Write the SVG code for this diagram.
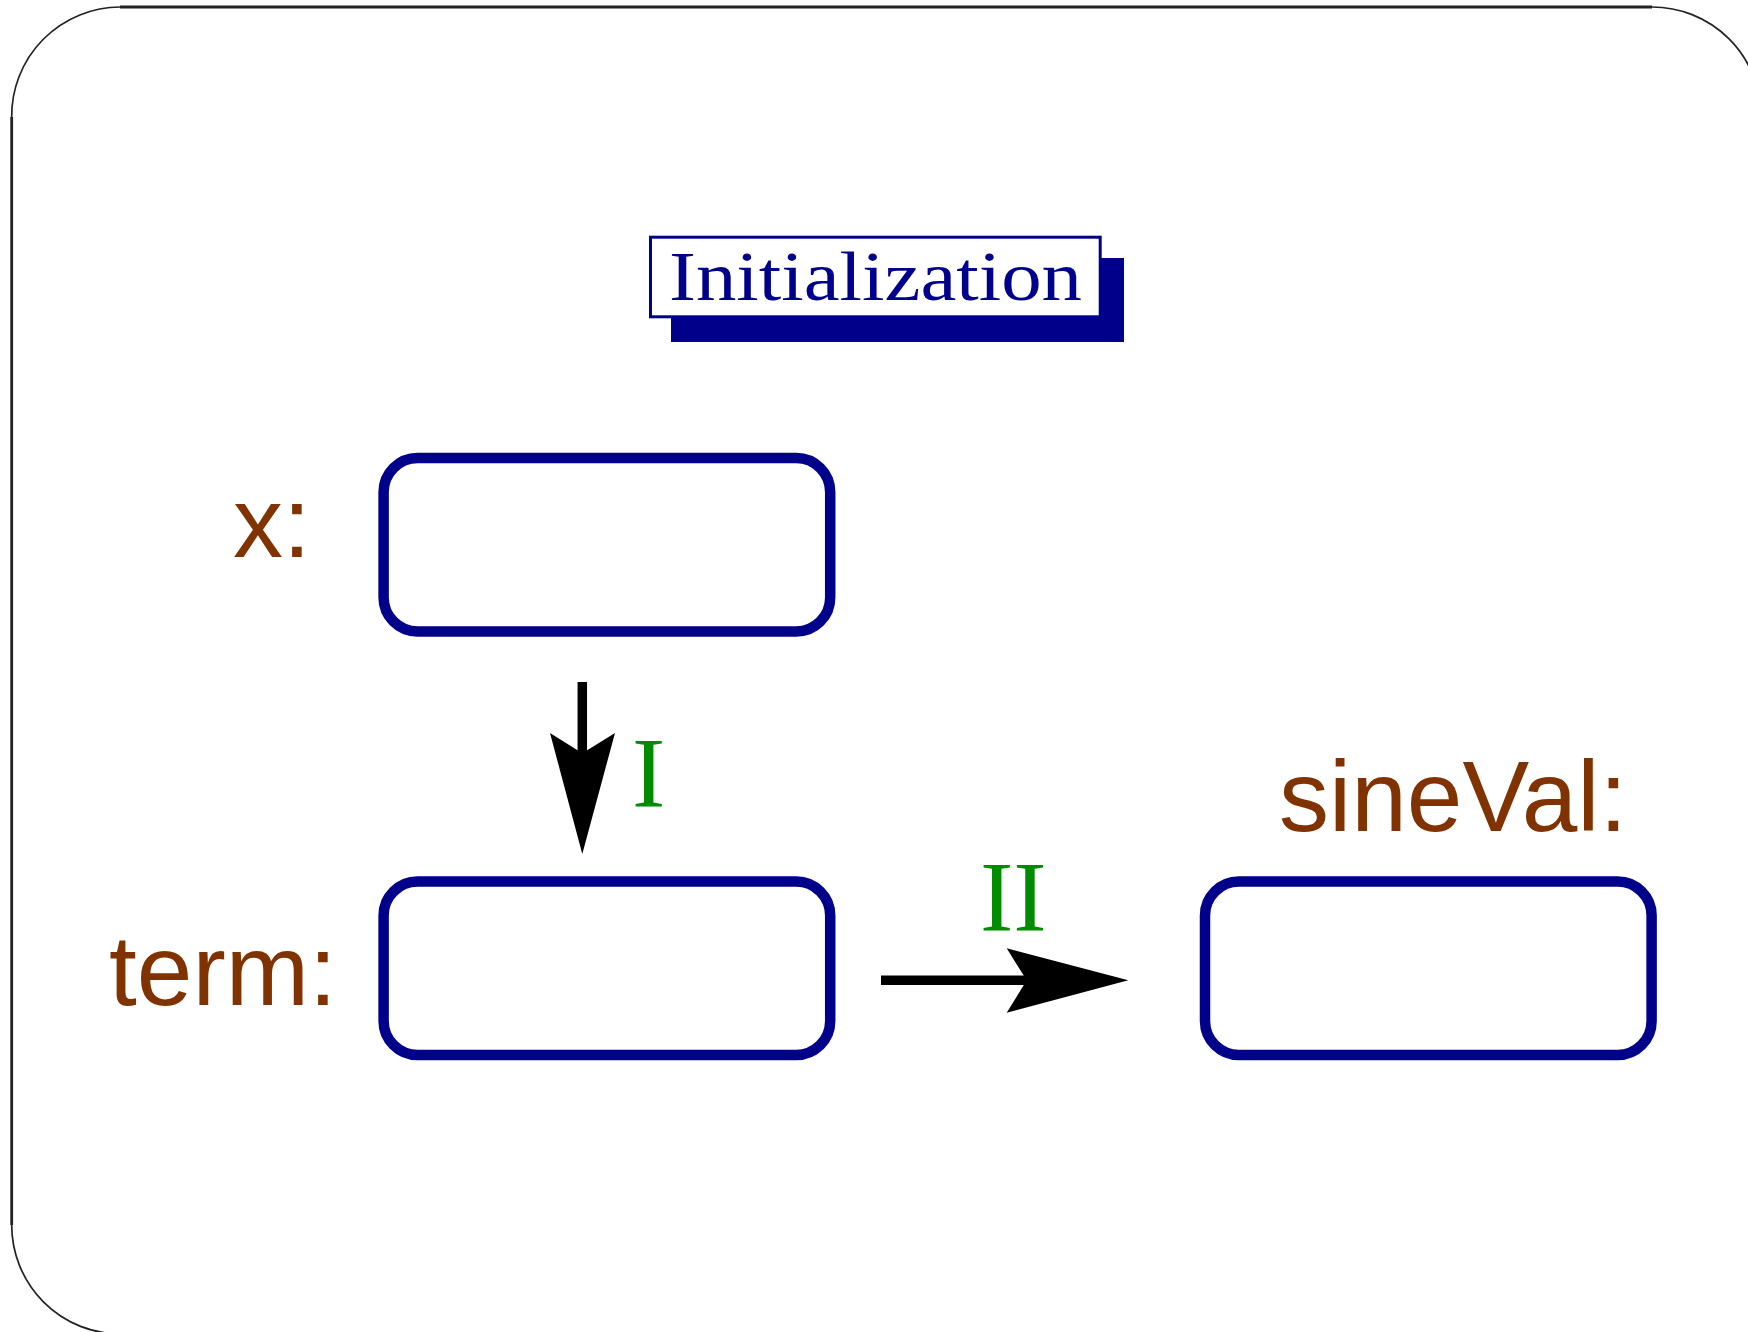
<svg xmlns="http://www.w3.org/2000/svg" width="1748" height="1332" viewBox="0 0 1748 1332">
  <style>
    .frame-line { fill: none; stroke: #222222; stroke-width: 2.8; }
    .frame-arc { fill: none; stroke: #222222; stroke-width: 1.7; }
    .var-box { fill: #ffffff; stroke: #00008b; stroke-width: 10.5; }
    .var-label { font-family: "Liberation Sans", Arial, sans-serif; font-size: 100px; fill: #803300; }
    .step-label { font-family: "Liberation Serif", "Times New Roman", serif; font-size: 100px; fill: #008b00; }
    .title-text { font-family: "Liberation Serif", "Times New Roman", serif; font-size: 69px; fill: #00008b; }
    .arrow-shaft { stroke: #000000; stroke-width: 9.5; fill: none; }
    .arrow-head { fill: #000000; stroke: none; }
  </style>
  <rect x="0" y="0" width="1748" height="1332" fill="#ffffff"/>

  <!-- slide frame with rounded corners -->
  <g id="frame">
    <path class="frame-line" d="M 120 7 L 1652 7"/>
    <path class="frame-line" d="M 11.7 117 L 11.7 1225"/>
    <path class="frame-arc" d="M 11.7 117 A 109 109 0 0 1 120 7"/>
    <path class="frame-arc" d="M 1652 7 A 109 109 0 0 1 1761 116"/>
    <path class="frame-arc" d="M 11.7 1225 A 109 109 0 0 0 120.7 1334"/>
  </g>

  <!-- title banner with drop shadow -->
  <g id="title">
    <rect x="671" y="258" width="453" height="84" fill="#00008b"/>
    <rect x="650.5" y="237.2" width="449.7" height="79.6" fill="#ffffff" stroke="#00008b" stroke-width="3"/>
    <text class="title-text" x="669" y="300" textLength="413" lengthAdjust="spacingAndGlyphs">Initialization</text>
  </g>

  <!-- variable x -->
  <g id="node-x">
    <text class="var-label" x="233" y="557">x:</text>
    <rect class="var-box" x="383.6" y="458" width="446.6" height="173.5" rx="34" ry="34"/>
  </g>

  <!-- variable term -->
  <g id="node-term">
    <text class="var-label" x="109" y="1005">term:</text>
    <rect class="var-box" x="383.6" y="881.5" width="446.6" height="173.5" rx="34" ry="34"/>
  </g>

  <!-- variable sineVal -->
  <g id="node-sineVal">
    <text class="var-label" x="1279" y="831">sineVal:</text>
    <rect class="var-box" x="1205" y="881.5" width="446.6" height="173.5" rx="34" ry="34"/>
  </g>

  <!-- connectors -->
  <g id="connectors">
    <g id="edge-I">
      <line class="arrow-shaft" x1="582.3" y1="682" x2="582.3" y2="755"/>
      <polygon class="arrow-head" points="582.3,854 550,733 582.3,753.3 615,733"/>
      <text class="step-label" x="632" y="806">I</text>
    </g>
    <g id="edge-II">
      <line class="arrow-shaft" x1="881" y1="980.3" x2="1028" y2="980.3"/>
      <polygon class="arrow-head" points="1128.3,980.3 1006.7,948.3 1026.7,980.3 1006.7,1012.7"/>
      <text class="step-label" x="980" y="930">II</text>
    </g>
  </g>
</svg>
